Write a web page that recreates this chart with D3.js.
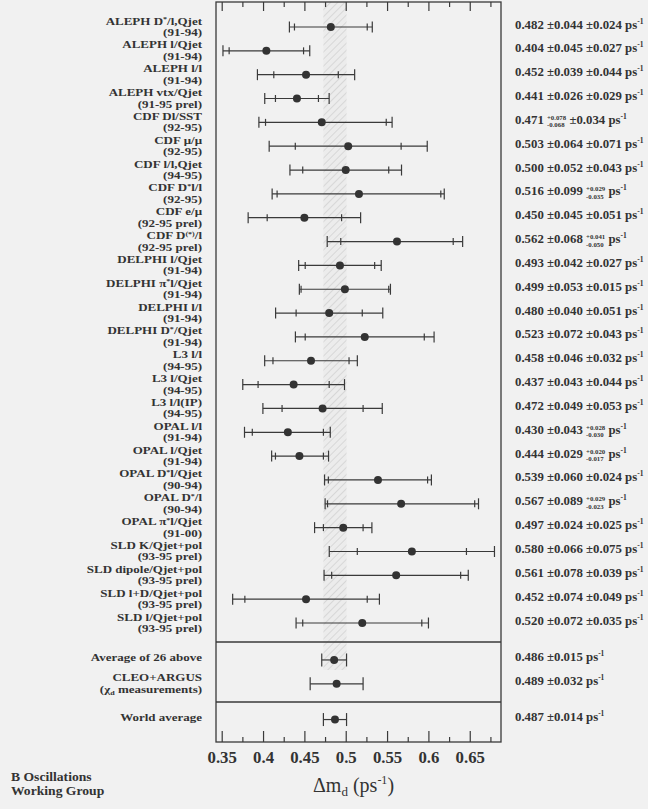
<!DOCTYPE html>
<html><head><meta charset="utf-8">
<script src="https://cdn.jsdelivr.net/npm/d3@7"></script>
<style>
body{margin:0;background:#f1f1f1;}
svg{display:block;}
text{font-family:"Liberation Serif","Times New Roman",serif;font-weight:bold;fill:#333;}
</style>
</head><body>
<svg id="c" width="648" height="809"></svg>
<script>
// ---------------- data ----------------
const labels1 = ["ALEPH D^{*}/l,Qjet","ALEPH l/Qjet","ALEPH l/l","ALEPH vtx/Qjet","CDF Dl/SST","CDF μ/μ","CDF l/l,Qjet","CDF D^{*}l/l","CDF e/μ","CDF D^{(*)}/l",
  "DELPHI l/Qjet","DELPHI π^{*}l/Qjet","DELPHI l/l","DELPHI D^{*}/Qjet","L3 l/l","L3 l/Qjet","L3 l/l(IP)","OPAL l/l","OPAL l/Qjet","OPAL D^{*}l/Qjet",
  "OPAL D^{*}/l","OPAL π^{*}l/Qjet","SLD K/Qjet+pol","SLD dipole/Qjet+pol","SLD l+D/Qjet+pol","SLD l/Qjet+pol"];
const labels2 = ["(91-94)","(91-94)","(91-94)","(91-95 prel)","(92-95)","(92-95)","(94-95)","(92-95)","(92-95 prel)","(92-95 prel)",
  "(91-94)","(91-94)","(91-94)","(91-94)","(94-95)","(94-95)","(94-95)","(91-94)","(91-94)","(90-94)",
  "(90-94)","(91-00)","(93-95 prel)","(93-95 prel)","(93-95 prel)","(93-95 prel)"];
const values    = [0.482,0.404,0.452,0.441,0.471,0.503,0.500,0.516,0.450,0.562,0.493,0.499,0.480,0.523,0.458,0.437,0.472,0.430,0.444,0.539,0.567,0.497,0.580,0.561,0.452,0.520];
const statPlus  = [0.044,0.045,0.039,0.026,0.078,0.064,0.052,0.099,0.045,0.068,0.042,0.053,0.040,0.072,0.046,0.043,0.049,0.043,0.029,0.060,0.089,0.024,0.066,0.078,0.074,0.072];
const statMinus = [0.044,0.045,0.039,0.026,0.068,0.064,0.052,0.099,0.045,0.068,0.042,0.053,0.040,0.072,0.046,0.043,0.049,0.043,0.029,0.060,0.089,0.024,0.066,0.078,0.074,0.072];
const systPlus  = [0.024,0.027,0.044,0.029,0.034,0.071,0.043,0.029,0.051,0.041,0.027,0.015,0.051,0.043,0.032,0.044,0.053,0.028,0.020,0.024,0.029,0.025,0.075,0.039,0.049,0.035];
const systMinus = [0.024,0.027,0.044,0.029,0.034,0.071,0.043,0.035,0.051,0.050,0.027,0.015,0.051,0.043,0.032,0.044,0.053,0.030,0.017,0.024,0.023,0.025,0.075,0.039,0.049,0.035];

const summaryLabels1 = ["Average of 26 above","CLEO+ARGUS","World average"];
const summaryLabels2 = ["","(χ_{d} measurements)",""];
const summaryValues  = [0.486,0.489,0.487];
const summaryErrors  = [0.015,0.032,0.014];

const majorTicks = [0.35,0.4,0.45,0.5,0.55,0.6,0.65];
const minorTicks = [0.375,0.425,0.475,0.525,0.575,0.625,0.675];
const bandCenter = 0.487, bandHalf = 0.014;

// ---------------- layout ----------------
const L = 216, R = 501, T = 2, B = 742;
const summaryRowPos = [26.55, 27.55, 29.05];
const sep1 = 642, sep2 = 702, bandBottom = 670;
const ink = "#3a3a3a";

const svg = d3.select("#c");
const x = d3.scaleLinear().domain([0.3431, 0.6878]).range([L, R]);
const y = d3.scaleLinear().domain([0, 25]).range([27, 623]);

// hatch pattern
const defs = svg.append("defs");
const pat = defs.append("pattern").attr("id","hatch").attr("patternUnits","userSpaceOnUse")
  .attr("width",5).attr("height",5).attr("patternTransform","rotate(45)");
pat.append("rect").attr("width",5).attr("height",5).attr("fill","#ececec");
pat.append("line").attr("x1",0).attr("y1",0).attr("x2",0).attr("y2",5).attr("stroke","#bdbdbd").attr("stroke-width",0.9);

svg.append("rect").attr("x",x(bandCenter-bandHalf)).attr("y",T)
  .attr("width",x(bandCenter+bandHalf)-x(bandCenter-bandHalf)).attr("height",bandBottom-T)
  .attr("fill","url(#hatch)");

// frame
svg.append("rect").attr("x",L).attr("y",T).attr("width",R-L).attr("height",B-T)
  .attr("fill","none").attr("stroke",ink).attr("stroke-width",1.3);
[sep1, sep2].forEach(s => svg.append("line").attr("x1",L).attr("x2",R).attr("y1",s).attr("y2",s)
  .attr("stroke",ink).attr("stroke-width",1.3));

// axes
function styleAxis(g){
  g.select(".domain").remove();
  g.selectAll(".tick line").attr("stroke",ink).attr("stroke-width",1.2);
}
const gB = svg.append("g").attr("transform",`translate(0,${B})`)
  .call(d3.axisBottom(x).tickValues(majorTicks).tickSize(-11).tickPadding(9).tickFormat(d3.format("~g")));
styleAxis(gB);
gB.selectAll(".tick text").style("font-size","16.8px").attr("fill","#333");
const gBm = svg.append("g").attr("transform",`translate(0,${B})`)
  .call(d3.axisBottom(x).tickValues(minorTicks).tickSize(-5).tickFormat(""));
styleAxis(gBm);
const gT = svg.append("g").attr("transform",`translate(0,${T})`)
  .call(d3.axisTop(x).tickValues(majorTicks).tickSize(-9).tickFormat(""));
styleAxis(gT);
const gTm = svg.append("g").attr("transform",`translate(0,${T})`)
  .call(d3.axisTop(x).tickValues(minorTicks).tickSize(-5).tickFormat(""));
styleAxis(gTm);

// rich label helper: ^{sup} and _{sub}
function rich(textSel, str, size){
  const re = /(\^|_)\{([^}]*)\}/g;
  let last = 0, m, shift = 0;
  while ((m = re.exec(str)) !== null){
    if (m.index > last) { textSel.append("tspan").attr("dy", -shift).text(str.slice(last, m.index)); shift = 0; }
    const d = m[1] === "^" ? -size*0.35 : size*0.2;
    textSel.append("tspan").attr("dy", d - shift).style("font-size", (size*0.62)+"px").text(m[2]);
    shift = d;
    last = re.lastIndex;
  }
  if (last < str.length) textSel.append("tspan").attr("dy", -shift).text(str.slice(last));
}

const labelX = 202, labSize = 10, labStretch = 1.3;
function labelText(yy){
  return svg.append("g").attr("transform",`translate(${labelX},${yy}) scale(${labStretch},1)`)
    .append("text").attr("x",0).attr("y",0).attr("text-anchor","end").style("font-size",labSize+"px");
}
function drawLabel(yy, l1, l2){
  if (l2){
    rich(labelText(yy-2.5), l1, labSize);
    rich(labelText(yy+9), l2, labSize);
  } else {
    rich(labelText(yy+1.5), l1, labSize);
  }
}

const annX = 515, annSize = 12.8, smallSize = 6.8;
function drawAnnot(yy, v, errs){
  const t = svg.append("text").attr("x",annX).attr("y",yy+1.5).style("font-size",annSize+"px");
  t.append("tspan").text(v.toFixed(3) + " ");
  errs.forEach(([p,m]) => {
    if (p === m) t.append("tspan").text("±" + p.toFixed(3) + " ");
    else {
      const a = t.append("tspan").attr("dy",-4).style("font-size",smallSize+"px").text("+"+p.toFixed(3));
      const wa = a.node().getComputedTextLength();
      const b = t.append("tspan").attr("dx",-wa).attr("dy",7.5).style("font-size",smallSize+"px").text("-"+m.toFixed(3));
      const wb = b.node().getComputedTextLength();
      t.append("tspan").attr("dx", Math.max(0, wa-wb)).attr("dy",-3.5).text(" ");
    }
  });
  t.append("tspan").text("ps");
  t.append("tspan").attr("dy",-5).style("font-size","7.5px").text("-1");
}

function errorBar(yy, v, lo, hi, inLo, inHi, capH){
  const g = svg.append("g").attr("stroke",ink).attr("stroke-width",1.2);
  g.append("line").attr("x1",x(v-lo)).attr("x2",x(v+hi)).attr("y1",yy).attr("y2",yy);
  [v-lo, v+hi].forEach(e => g.append("line").attr("x1",x(e)).attr("x2",x(e)).attr("y1",yy-capH).attr("y2",yy+capH));
  if (inLo !== null){
    [v-inLo, v+inHi].forEach(e => g.append("line").attr("x1",x(e)).attr("x2",x(e)).attr("y1",yy-3.5).attr("y2",yy+3.5));
  }
  svg.append("circle").attr("cx",x(v)).attr("cy",yy).attr("r",4).attr("fill","#333");
}

values.forEach((v,i) => {
  const yy = y(i);
  const tm = Math.hypot(statMinus[i], systMinus[i]);
  const tp = Math.hypot(statPlus[i], systPlus[i]);
  errorBar(yy, v, tm, tp, statMinus[i], statPlus[i], 5.5);
  drawLabel(yy, labels1[i], labels2[i]);
  drawAnnot(yy, v, [[statPlus[i],statMinus[i]],[systPlus[i],systMinus[i]]]);
});

summaryValues.forEach((v,i) => {
  const yy = y(summaryRowPos[i]);
  errorBar(yy, v, summaryErrors[i], summaryErrors[i], null, null, 6.5);
  drawLabel(yy, summaryLabels1[i], summaryLabels2[i]);
  drawAnnot(yy, v, [[summaryErrors[i],summaryErrors[i]]]);
});

// axis title
const tt = svg.append("text").attr("x",313).attr("y",792).style("font-size","20px").style("font-weight","normal");
tt.append("tspan").text("Δm");
tt.append("tspan").attr("dy",4).style("font-size","13px").text("d");
tt.append("tspan").attr("dy",-4).text(" (ps");
tt.append("tspan").attr("dy",-8).style("font-size","12px").text("-1");
tt.append("tspan").attr("dy",8).text(")");

// group name
[["B Oscillations",781],["Working Group",795]].forEach(([s,yy]) =>
  svg.append("g").attr("transform",`translate(11,${yy}) scale(1.1,1)`)
    .append("text").attr("x",0).attr("y",0).style("font-size","12.4px").text(s));
</script>
</body></html>
